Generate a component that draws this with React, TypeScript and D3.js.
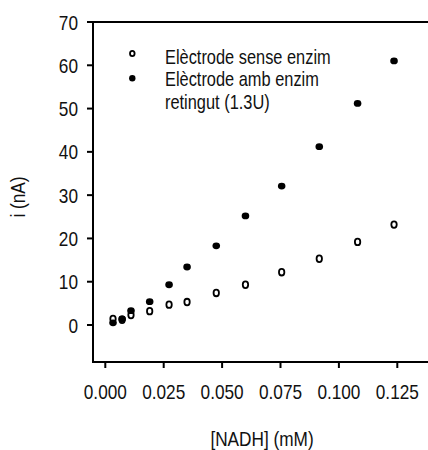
import React from "react";
import * as d3 from "d3";

const concentrations = [0.0033, 0.0072, 0.011, 0.019, 0.0273, 0.035, 0.0475, 0.06, 0.0755, 0.0916, 0.108, 0.1236];
const withoutEnzyme = [1.4, 1.2, 2.3, 3.2, 4.7, 5.3, 7.4, 9.3, 12.2, 15.3, 19.2, 23.2];
const withEnzyme = [0.5, 1.4, 3.3, 5.4, 9.3, 13.4, 18.3, 25.2, 32.1, 41.2, 51.2, 61.0];
const xTicks = [0, 0.025, 0.05, 0.075, 0.1, 0.125];
const yTicks = [0, 10, 20, 30, 40, 50, 60, 70];
const legendLabels = ["Elèctrode sense enzim", "Elèctrode amb enzim", "retingut (1.3U)"];
const xTitle = "[NADH] (mM)";
const yTitle = "i (nA)";

const FONT = "'Liberation Sans', Arial, sans-serif";
const SX = 0.82;

function NText({ x, y, anchor = "start", size, rotate = 0, dy, children }: any) {
  return (
    <g transform={`translate(${x},${y}) rotate(${rotate}) scale(${SX},1)`}>
      <text x={0} y={0} dy={dy} textAnchor={anchor} fontSize={size} fill="#111" fontFamily={FONT}>{children}</text>
    </g>
  );
}

export default function App() {
  const W = 428, H = 450;
  const left = 93, top = 22, bottom = 362;
  const x = d3.scaleLinear().domain([0, 0.125]).range([105.3, 397.3]);
  const y = d3.scaleLinear().domain([0, 70]).range([325, 22]);
  const tickFmt = d3.format(".3f");

  return (
    <svg width={W} height={H} style={{ position: "absolute", left: 0, top: 0, background: "#fff" }}>
      {/* axes frame */}
      <line x1={left} x2={W} y1={top} y2={top} stroke="#000" strokeWidth={2} />
      <line x1={left} x2={W} y1={bottom} y2={bottom} stroke="#000" strokeWidth={2} />
      <line x1={left} x2={left} y1={top - 1} y2={bottom + 1} stroke="#000" strokeWidth={2} />
      {/* y ticks */}
      {yTicks.map((t) => (
        <g key={"y" + t}>
          <line x1={left - 6} x2={left} y1={y(t)} y2={y(t)} stroke="#000" strokeWidth={2} />
          <NText x={78} y={y(t)} dy="0.36em" anchor="end" size={21}>{t}</NText>
        </g>
      ))}
      {/* x ticks */}
      {xTicks.map((t) => (
        <g key={"x" + t}>
          <line x1={x(t)} x2={x(t)} y1={bottom} y2={bottom + 6} stroke="#000" strokeWidth={2} />
          <NText x={x(t)} y={399} anchor="middle" size={21}>{tickFmt(t)}</NText>
        </g>
      ))}
      {/* titles */}
      <NText x={262} y={445.5} anchor="middle" size={21}>{xTitle}</NText>
      <NText x={25} y={197} rotate={-90} anchor="middle" size={21}>{yTitle}</NText>
      {/* data: open */}
      {concentrations.map((c, i) => (
        <ellipse key={"o" + i} cx={x(c)} cy={y(withoutEnzyme[i])} rx={2.7} ry={3.3} fill="#fff" stroke="#000" strokeWidth={1.8} />
      ))}
      {/* data: filled */}
      {concentrations.map((c, i) => (
        <ellipse key={"f" + i} cx={x(c)} cy={y(withEnzyme[i])} rx={3.8} ry={3.4} fill="#000" />
      ))}
      {/* legend */}
      <ellipse cx={132.3} cy={53.5} rx={2.3} ry={2.6} fill="#fff" stroke="#000" strokeWidth={1.8} />
      <ellipse cx={132.3} cy={78.3} rx={3.2} ry={3.2} fill="#000" />
      <NText x={165} y={64} size={20}>{legendLabels[0]}</NText>
      <NText x={165} y={86} size={20}>{legendLabels[1]}</NText>
      <NText x={165} y={108.5} size={20}>{legendLabels[2]}</NText>
    </svg>
  );
}
